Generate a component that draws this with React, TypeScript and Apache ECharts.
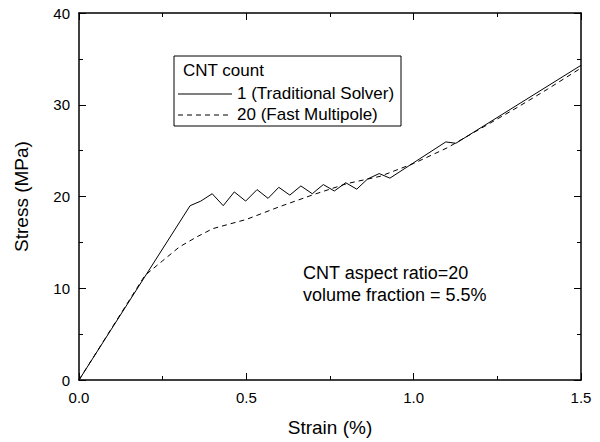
import React, { useEffect, useRef } from "react";
import * as echarts from "echarts";

const FONT = "'Liberation Sans', Arial, sans-serif";

const seriesNames = ["1 (Traditional Solver)", "20 (Fast Multipole)"];
const legendTitle = "CNT count";
const annotationLines = ["CNT aspect ratio=20", "volume fraction = 5.5%"];
const xAxisName = "Strain (%)";
const yAxisName = "Stress (MPa)";

const solidData: [number, number][] = [
  [0, 0], [0.332, 19.0], [0.364, 19.5], [0.398, 20.3], [0.431, 19.0], [0.464, 20.5],
  [0.498, 19.5], [0.532, 20.75], [0.565, 19.8], [0.597, 21.0], [0.63, 20.15],
  [0.663, 21.15], [0.697, 20.3], [0.73, 21.3], [0.763, 20.6], [0.797, 21.5],
  [0.83, 20.8], [0.862, 21.9], [0.897, 22.5], [0.929, 22.0], [1.096, 25.95],
  [1.126, 25.8], [1.5, 34.3],
];

const dashedData: [number, number][] = [
  [0, 0], [0.197, 11.4], [0.25, 13.0], [0.3, 14.5], [0.352, 15.6], [0.4, 16.5],
  [0.5, 17.5], [0.6, 18.9], [0.7, 20.2], [0.8, 21.4], [0.9, 22.2], [1.0, 23.6],
  [1.1, 25.3], [1.2, 27.4], [1.3, 29.5], [1.4, 31.7], [1.5, 34.0],
];

export default function App() {
  const ref = useRef<HTMLDivElement>(null);
  useEffect(() => {
    if (!ref.current) return;
    const chart = echarts.init(ref.current, null, { renderer: "svg" });
    const axisCommon = {
      axisLine: { show: true, onZero: false, lineStyle: { color: "#000", width: 1.5 } },
      axisTick: { show: true, inside: true, length: 7, lineStyle: { color: "#000", width: 1 } },
      minorTick: { show: true, splitNumber: 2, length: 4, lineStyle: { color: "#000", width: 1 } },
      splitLine: { show: false },
      minorSplitLine: { show: false },
    };
    chart.setOption({
      animation: false,
      backgroundColor: "#fff",
      grid: { left: 79, right: 19, top: 13, bottom: 56, containLabel: false },
      xAxis: [
        {
          type: "value", min: 0, max: 1.5, interval: 0.5, position: "bottom",
          name: xAxisName, nameLocation: "middle", nameGap: 38,
          nameTextStyle: { fontFamily: FONT, fontSize: 19, color: "#000" },
          axisLabel: {
            fontFamily: FONT, fontSize: 15, color: "#000", margin: 10,
            formatter: (v: number) => v.toFixed(1),
          },
          ...axisCommon,
        },
        {
          type: "value", min: 0, max: 1.5, interval: 0.5, position: "top",
          axisLabel: { show: false }, ...axisCommon,
        },
      ],
      yAxis: [
        {
          type: "value", min: 0, max: 40, interval: 10, position: "left",
          name: yAxisName, nameLocation: "middle", nameGap: 48,
          nameTextStyle: { fontFamily: FONT, fontSize: 19, color: "#000" },
          axisLabel: { fontFamily: FONT, fontSize: 15, color: "#000", margin: 9 },
          ...axisCommon,
        },
        {
          type: "value", min: 0, max: 40, interval: 10, position: "right",
          axisLabel: { show: false }, ...axisCommon,
        },
      ],
      graphic: [
        {
          type: "rect",
          shape: { x: 174, y: 56, width: 227, height: 70 },
          style: { fill: "#fff", stroke: "#000", lineWidth: 1 },
          z: 10,
        },
        {
          type: "text",
          left: 183, top: 62,
          style: { text: legendTitle, font: `17px ${FONT}`, fill: "#000" },
          z: 11,
        },
        {
          type: "line",
          shape: { x1: 178, y1: 94, x2: 232, y2: 94 },
          style: { stroke: "#000", lineWidth: 1 },
          z: 11,
        },
        {
          type: "text",
          left: 237, top: 85,
          style: { text: seriesNames[0], font: `17px ${FONT}`, fill: "#000" },
          z: 11,
        },
        {
          type: "line",
          shape: { x1: 178, y1: 115, x2: 232, y2: 115 },
          style: { stroke: "#000", lineWidth: 1, lineDash: [5, 4] },
          z: 11,
        },
        {
          type: "text",
          left: 237, top: 106,
          style: { text: seriesNames[1], font: `17px ${FONT}`, fill: "#000" },
          z: 11,
        },
        {
          type: "text",
          left: 303, top: 262,
          style: {
            text: annotationLines.join("\n"),
            font: `18px ${FONT}`, fill: "#000", lineHeight: 22,
          },
          z: 10,
        },
      ],
      series: [
        {
          name: seriesNames[0], type: "line", data: solidData, symbol: "none",
          lineStyle: { color: "#000", width: 1, type: "solid" },
          itemStyle: { color: "#000" },
          xAxisIndex: 0, yAxisIndex: 0,
        },
        {
          name: seriesNames[1], type: "line", data: dashedData, symbol: "none",
          lineStyle: { color: "#000", width: 1, type: [5, 4] },
          itemStyle: { color: "#000" },
          xAxisIndex: 0, yAxisIndex: 0,
        },
      ],
    });
    return () => chart.dispose();
  }, []);
  return <div ref={ref} style={{ width: 600, height: 442, position: "absolute", left: 0, top: 0 }} />;
}
